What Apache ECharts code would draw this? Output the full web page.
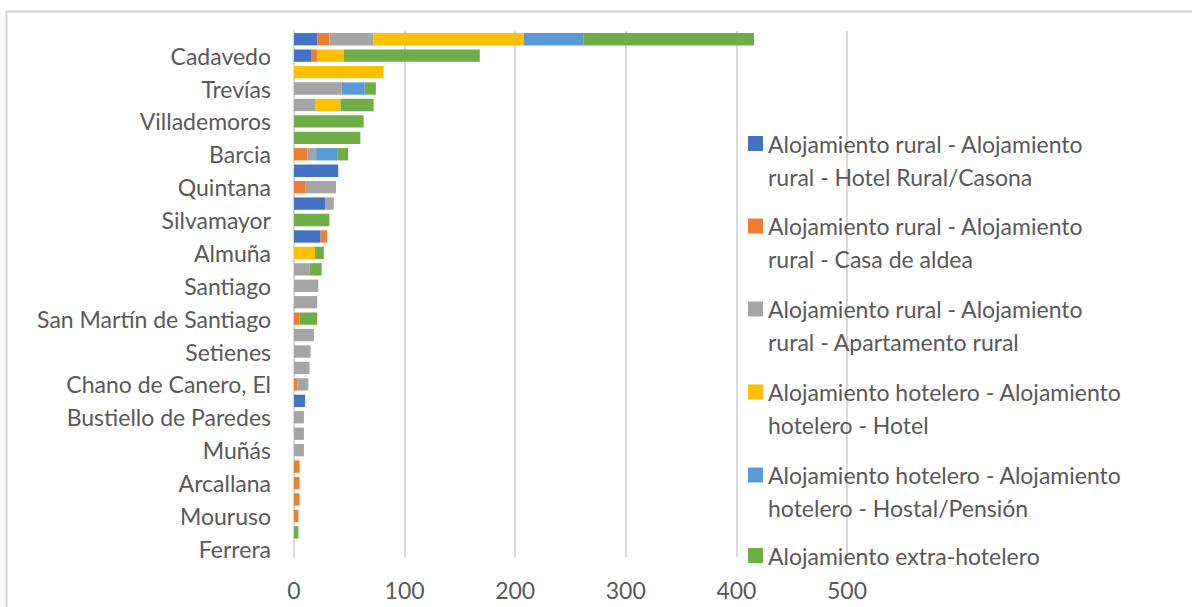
<!DOCTYPE html>
<html lang="es">
<head>
<meta charset="utf-8">
<title>Plazas de alojamiento por localidad</title>
<script src="https://cdn.jsdelivr.net/npm/echarts@6/dist/echarts.min.js"></script>
<style>
  html, body { margin: 0; padding: 0; background: #ffffff; }
  #chart { width: 1192px; height: 607px; }
</style>
</head>
<body>
<div id="chart"></div>
<script>
// Localities, listed from the top row of the chart to the bottom row
const places = [
  'Canero', 'Cadavedo', 'Busto', 'Trevías', 'Paredes', 'Villademoros',
  'Otur', 'Barcia', 'Caroyas', 'Quintana', 'Ayones', 'Silvamayor',
  'Cortina', 'Almuña', 'Brieves', 'Santiago', 'Carcedo', 'San Martín de Santiago',
  'Naraval', 'Setienes', 'Leiján', 'Chano de Canero, El', 'Ranón', 'Bustiello de Paredes',
  'Folgueras', 'Muñás', 'Castañedo', 'Arcallana', 'Alienes', 'Mouruso',
  'Lebredo', 'Ferrera'
];

// Accommodation types (legend entries, already wrapped onto two lines)
const seriesNames = [
  'Alojamiento rural - Alojamiento\nrural - Hotel Rural/Casona',
  'Alojamiento rural - Alojamiento\nrural - Casa de aldea',
  'Alojamiento rural - Alojamiento\nrural - Apartamento rural',
  'Alojamiento hotelero - Alojamiento\nhotelero - Hotel',
  'Alojamiento hotelero - Alojamiento\nhotelero - Hostal/Pensión',
  'Alojamiento extra-hotelero'
];

// Values per locality, same order as `places`
const hotelRural   = [21, 16, 0, 0, 0, 0, 0, 0, 40, 0, 28, 0, 24, 0, 0, 0, 0, 0, 0, 0, 0, 0, 10, 0, 0, 0, 0, 0, 0, 0, 0, 0];
const casaAldea    = [11, 5, 0, 0, 0, 0, 0, 12, 0, 10, 0, 0, 6, 0, 0, 0, 0, 5, 0, 0, 0, 3, 0, 0, 0, 0, 5, 5, 5, 4, 0, 0];
const apartamento  = [40, 0, 0, 43, 19, 0, 0, 8, 0, 28, 8, 0, 0, 0, 14, 22, 21, 0, 18, 15, 14, 10, 0, 9, 9, 9, 0, 0, 0, 0, 0, 0];
const hotel        = [136, 24, 81, 0, 23, 0, 0, 0, 0, 0, 0, 0, 0, 19, 0, 0, 0, 0, 0, 0, 0, 0, 0, 0, 0, 0, 0, 0, 0, 0, 0, 0];
const hostal       = [54, 0, 0, 21, 0, 0, 0, 19, 0, 0, 0, 0, 0, 0, 0, 0, 0, 0, 0, 0, 0, 0, 0, 0, 0, 0, 0, 0, 0, 0, 0, 0];
const extraHotel   = [154, 123, 0, 10, 30, 63, 60, 10, 0, 0, 0, 32, 0, 8, 11, 0, 0, 16, 0, 0, 0, 0, 0, 0, 0, 0, 0, 0, 0, 0, 4, 0];

const xTicks = { min: 0, max: 500, step: 100 };

const seriesValues = [hotelRural, casaAldea, apartamento, hotel, hostal, extraHotel];
const colors = ['#4472C4', '#ED7D31', '#A5A5A5', '#FFC000', '#5B9BD5', '#70AD47'];

const FONT = 'Lato, "Open Sans", sans-serif';
const FONT_SIZE = 23;
const TEXT_COLOR = '#595959';
const GRID_COLOR = '#d9d9d9';

// Category axis runs bottom-up, so reverse the top-down lists
const yCats = places.slice().reverse();

const series = seriesNames.map((name, i) => ({
  name: name,
  type: 'bar',
  stack: 'total',
  barCategoryGap: '25%',
  itemStyle: { color: colors[i] },
  emphasis: { disabled: true },
  data: seriesValues[i].slice().reverse()
}));

// One legend block per entry. Two-line entries get a blank leading line so
// that the colour square lines up with the first line of text.
const legendCenters = [143.5, 226, 309, 392, 475, 555.5];
const LINE_H = 33;
const legends = seriesNames.map((name, i) => {
  const twoLines = name.indexOf('\n') >= 0;
  const blockH = twoLines ? LINE_H * 3 : LINE_H;
  return {
    show: true,
    data: [name],
    orient: 'vertical',
    left: 748,
    top: legendCenters[i] - blockH / 2,
    padding: 0,
    icon: 'rect',
    itemWidth: 15,
    itemHeight: 15,
    selectedMode: false,
    formatter: twoLines ? (n => '\n' + n) : (n => n),
    textStyle: {
      fontFamily: FONT,
      fontSize: FONT_SIZE,
      color: TEXT_COLOR,
      lineHeight: LINE_H,
      backgroundColor: 'rgba(0,0,0,0)'
    }
  };
});

const chart = echarts.init(document.getElementById('chart'), null, { renderer: 'svg' });

chart.setOption({
  animation: false,
  backgroundColor: '#ffffff',
  textStyle: { fontFamily: FONT },
  grid: { left: 294, right: 345, top: 31, bottom: 50, containLabel: false },
  xAxis: {
    type: 'value',
    min: xTicks.min,
    max: xTicks.max,
    interval: xTicks.step,
    axisLine: { show: false },
    axisTick: { show: false },
    splitLine: { show: true, lineStyle: { color: GRID_COLOR, width: 2 } },
    axisLabel: { fontFamily: FONT, fontSize: FONT_SIZE, color: TEXT_COLOR, margin: 21 }
  },
  yAxis: {
    type: 'category',
    data: yCats,
    axisTick: { show: false },
    axisLine: { show: true, lineStyle: { color: GRID_COLOR, width: 2 } },
    axisLabel: { interval: 1, fontFamily: FONT, fontSize: FONT_SIZE, color: TEXT_COLOR, margin: 23 }
  },
  legend: legends,
  graphic: [{
    type: 'rect',
    left: 4,
    top: 9,
    shape: { width: 1300, height: 700 },
    style: { fill: 'none', stroke: '#d4d4d4', lineWidth: 2 },
    silent: true
  }],
  series: series
});
</script>
</body>
</html>
